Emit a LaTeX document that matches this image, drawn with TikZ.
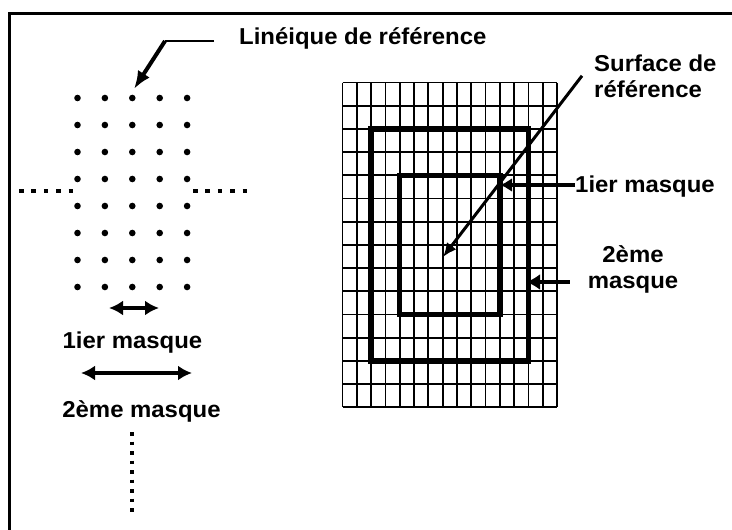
\documentclass[tikz,border=0pt]{standalone}
\usepackage{fontspec}
\setmainfont[FakeStretch=1.04]{Liberation Sans}
\usetikzlibrary{arrows.meta}

\begin{document}
\begin{tikzpicture}[x=1pt, y=-1pt,
  every node/.style={font=\fontsize{23}{26}\selectfont\bfseries, inner sep=0pt},
  masque/.style={line width=5.5pt},
  dfleche/.style={line width=4pt, {Latex[length=14pt,width=15pt]}-{Latex[length=14pt,width=15pt]}},
  pointille/.style={line width=4.5pt, dash pattern=on 4.5pt off 7.9pt}]

\useasboundingbox (0,0) rectangle (732,530);

% Cadre
\draw[line width=3.5pt] (9.5,530) -- (9.5,13.5) -- (732,13.5);

% Points (5 x 8)
\foreach \i in {0,...,4}
  \foreach \j in {0,...,7}
    \fill (77.5+27.4*\i, 98+27*\j) circle (3.3pt);

% Pointilles
\draw[pointille] (19,191) -- (72.6,191);
\draw[pointille] (193,191) -- (246.6,191);
\draw[line width=4pt, dash pattern=on 3.5pt off 6pt] (132,432) -- (132,517);

% Grille 15 x 14
\foreach \i in {0,...,15}
  \draw[line width=1.8pt] (342.5+14.3*\i,82.5) -- (342.5+14.3*\i,407.3);
\foreach \j in {0,...,14}
  \draw[line width=1.8pt] (342.5,82.5+23.2*\j) -- (557,82.5+23.2*\j);

% Masques
\draw[masque] (371.1,128.9) rectangle (528.4,360.9);
\draw[masque] (399.7,175.3) rectangle (499.8,314.5);

% Textes
\node[anchor=base west] (lin) at (239,44.5) {Linéique de référence};
\node[anchor=base west, align=left] (surf) at (594,97) {Surface de\\référence};
\node[anchor=base west] (m1r) at (575,192.5) {1ier masque};
\node[anchor=base, align=center] (m2r) at (633,288) {2ème\\masque};
\node[anchor=base] (m1l) at (132.5,348) {1ier masque};
\node[anchor=base] (m2l) at (141.5,417) {2ème masque};

% Fleches
\coordinate (linbend) at (165,41);
\coordinate (lintip) at (134,89);
\draw[line width=1.8pt] ([xshift=-25pt]lin.west |- linbend) -- (linbend);
\draw[line width=4pt, -{Latex[length=18pt,width=14pt]}] (linbend) -- (lintip);

\coordinate (surftip) at (443,257);
\draw[line width=3pt, -{Latex[length=14pt,width=12pt]}] ([xshift=-12pt]surf.west) -- (surftip);

\coordinate (m1tip) at (500,185);
\draw[line width=4.5pt, -{Latex[length=12pt,width=14pt]}] (m1r.west |- m1tip) -- (m1tip);

\coordinate (m2tip) at (526,282);
\draw[line width=3.5pt, -{Latex[length=14pt,width=16pt]}, shorten <=18pt] (m2r.west |- m2tip) -- (m2tip);

\coordinate (m1a) at (109,308);
\coordinate (m1b) at (159,308);
\draw[dfleche] (m1a) -- (m1b);
\coordinate (m2a) at (81,373);
\coordinate (m2b) at (192,373);
\draw[dfleche] (m2a) -- (m2b);

\end{tikzpicture}
\end{document}
